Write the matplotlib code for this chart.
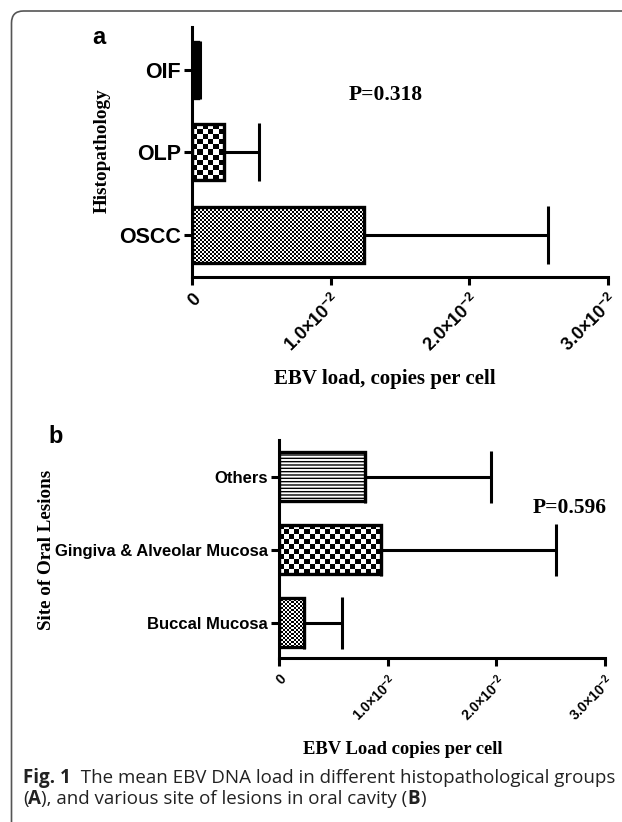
import numpy as np
import matplotlib
matplotlib.use("Agg")
import matplotlib.pyplot as plt
from matplotlib.patches import FancyBboxPatch
from matplotlib.transforms import IdentityTransform

# panel a: histopathology groups
hist_groups = ["OSCC", "OLP", "OIF"]
hist_mean = [0.0124, 0.0023, 0.0004]
hist_sd = [0.0133, 0.0025, 0.0002]

# panel b: site of oral lesions
site_groups = ["Buccal Mucosa", "Gingiva & Alveolar Mucosa", "Others"]
site_mean = [0.0023, 0.0094, 0.0079]
site_sd = [0.0035, 0.0161, 0.0116]

xticks = [0, 0.01, 0.02, 0.03]
xtick_labels = ["0", r"$\mathbf{1.0{\times}10^{-2}}$",
                r"$\mathbf{2.0{\times}10^{-2}}$", r"$\mathbf{3.0{\times}10^{-2}}$"]

plt.rcParams["mathtext.fontset"] = "custom"
plt.rcParams["mathtext.bf"] = "Liberation Sans:bold"
plt.rcParams["mathtext.rm"] = "Liberation Sans"
plt.rcParams["hatch.linewidth"] = 1.0

W, H = 622, 822
fig = plt.figure(figsize=(W / 100, H / 100), dpi=100)

SANS = "Liberation Sans"
SERIF = "Liberation Serif"


def px_axes(l, t, r, b):
    return fig.add_axes([l / W, 1 - b / H, (r - l) / W, (b - t) / H])


def checker(ax, patch, cell, zorder=2):
    # fill one bar with a black/white checker texture
    x0, y0 = patch.get_x(), patch.get_y()
    x1, y1 = x0 + patch.get_width(), y0 + patch.get_height()
    (px0, py0), (px1, py1) = ax.transData.transform([(x0, y0), (x1, y1)])
    nx = max(1, int(round(abs(px1 - px0) / cell)))
    ny = max(1, int(round(abs(py1 - py0) / cell)))
    grid = np.add.outer(np.arange(ny), np.arange(nx)) % 2
    ax.imshow(grid, cmap="gray", extent=(x0, x1, y0, y1), aspect="auto",
              interpolation="nearest", zorder=zorder)


def draw_panel(ax, groups, mean, sd, textures, ylim, cap, lab_fs, tick_fs):
    y = np.arange(len(groups))
    ax.set_xlim(0, 0.03)
    ax.set_ylim(*ylim)
    bars = ax.barh(y, mean, height=0.68, color="white", edgecolor="black",
                   linewidth=2.4, zorder=3)
    ax.errorbar(mean, y, xerr=[np.zeros(len(sd)), sd], fmt="none",
                ecolor="black", elinewidth=2.2, capsize=cap, capthick=2.2, zorder=2)
    for b, tex in zip(bars, textures):
        if tex == "solid":
            b.set_facecolor("black")
        elif tex == "lines":
            b.set_hatch("-----")
        else:
            b.set_facecolor("none")
            checker(ax, b, tex)
    ax.set_yticks(y)
    ax.set_yticklabels(groups, fontsize=lab_fs, fontweight="bold", family=SANS)
    for s in ["top", "right"]:
        ax.spines[s].set_visible(False)
    for s in ["left", "bottom"]:
        ax.spines[s].set_linewidth(2.2)
    ax.tick_params(axis="both", width=2.2, length=6, direction="out", pad=2)
    ax.set_xticks(xticks)
    ax.set_xticklabels(xtick_labels, rotation=45, ha="right",
                       rotation_mode="anchor", fontsize=tick_fs, fontweight="bold",
                       family=SANS)
    ax.tick_params(axis="x", pad=4)
    ax.set_xlim(0, 0.03)
    ax.set_ylim(*ylim)


ax1 = px_axes(192, 27, 608, 277)
draw_panel(ax1, hist_groups, hist_mean, hist_sd, [2, 5, "solid"], (-0.516, 2.52), 21, 15.5, 13)
ax2 = px_axes(279, 440, 604.5, 658)
draw_panel(ax2, site_groups, site_mean, site_sd, [2, 5, "lines"], (-0.486, 2.5), 19, 12, 10)


def ftext(x, y, s, **kw):
    return fig.text(x / W, 1 - y / H, s, ha="center", va="center", **kw)


ftext(99, 37, "a", fontsize=17, fontweight="bold", family=SANS)
ftext(56, 436, "b", fontsize=17, fontweight="bold", family=SANS)
ftext(102, 151, "Histopathology", rotation=90, fontsize=13.8, fontweight="bold", family=SERIF)
ftext(46.5, 550, "Site of Oral Lesions", rotation=90, fontsize=13.7, fontweight="bold", family=SERIF)
ftext(385, 379, "EBV load, copies per cell", fontsize=15, fontweight="bold", family=SERIF)
ftext(403, 749, "EBV Load copies per cell", fontsize=13.4, fontweight="bold", family=SERIF)
ftext(386, 95, "P=0.318", fontsize=15.5, fontweight="bold", family=SERIF)
ftext(570, 508, "P=0.596", fontsize=15.5, fontweight="bold", family=SERIF)

# caption with mixed bold / regular runs
CAP = "Open Sans"
renderer = fig.canvas.get_renderer()
line1 = [("Fig. 1", True), ("  The mean EBV DNA load in different histopathological groups", False)]
line2 = [("(", False), ("A", True), ("), and various site of lesions in oral cavity (", False),
         ("B", True), (")", False)]


def caption_line(x, y, parts, fs):
    texts = []
    for s, bold in parts:
        t = fig.text(x / W, 1 - y / H, s, ha="left", va="baseline", fontsize=fs,
                     fontweight="bold" if bold else "normal", family=CAP,
                     color="#222222")
        x += t.get_window_extent(renderer).width
        texts.append(t)
    return texts, x


# fit the first caption line to its width in the reference
probe, end = caption_line(23, 783, line1, 13)
fs_cap = 13 * (613 - 23) / (end - 23)
for t in probe:
    t.remove()
caption_line(23, 783, line1, fs_cap)
caption_line(23, 804, line2, fs_cap)

# rounded frame around the figure
frame = FancyBboxPatch((11.5, -40), 700, H - 11 + 40, boxstyle="round,pad=0,rounding_size=12",
                       transform=IdentityTransform(), facecolor="none",
                       edgecolor="#555555", linewidth=1.2)
fig.patches.append(frame)

fig.savefig("out.png", dpi=100)
